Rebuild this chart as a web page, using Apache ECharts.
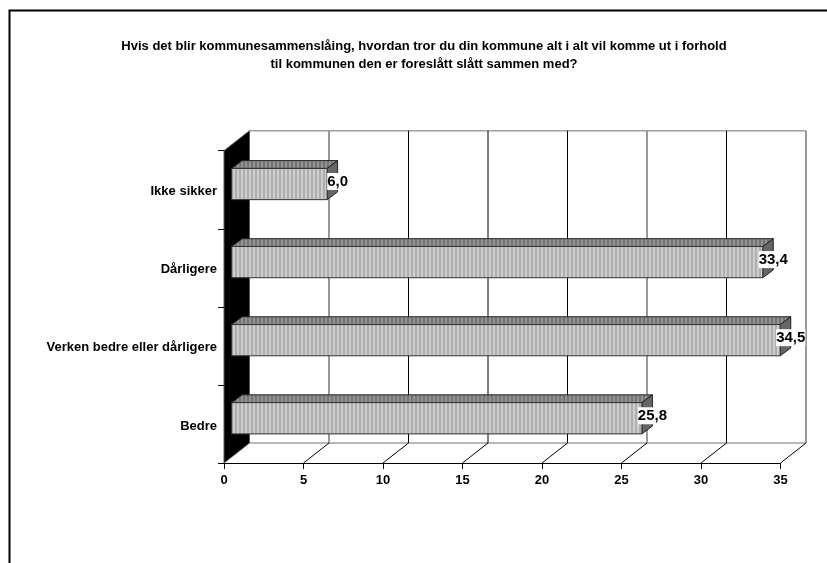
<!DOCTYPE html>
<html>
<head>
<meta charset="utf-8">
<style>html,body{margin:0;padding:0;background:#fff}#c{width:827px;height:563px}</style>
<script src="https://cdn.jsdelivr.net/npm/echarts@6/dist/echarts.min.js"></script>
</head>
<body>
<div id="c"></div>
<script>
const titleLines = [
  'Hvis det blir kommunesammenslåing, hvordan tror du din kommune alt i alt vil komme ut i forhold',
  'til kommunen den er foreslått slått sammen med?'
];
const categories = ['Bedre', 'Verken bedre eller dårligere', 'Dårligere', 'Ikke sikker'];
const values = [25.8, 34.5, 33.4, 6.0];
const valueLabels = ['25,8', '34,5', '33,4', '6,0'];
const xTicks = [0, 5, 10, 15, 20, 25, 30, 35];

// 3D look (pixels)
const WALL_DX = 25.5, WALL_DY = 20;
const BAR_DX = 10.5, BAR_DY = 7.8;
const BAR_X = 7.7, BAR_Y = -5.7;
const blackGrid = new Set([10, 15, 20, 30]);

function stripes(a, b) {
  const cv = document.createElement('canvas');
  cv.width = 4; cv.height = 4;
  const g = cv.getContext('2d');
  g.fillStyle = a; g.fillRect(0, 0, 4, 4);
  g.fillStyle = b; g.fillRect(1, 0, 2, 4);
  return { image: cv, repeat: 'repeat' };
}
const frontFill = stripes('#aeaeae', '#cdcdcd');
const topFill = stripes('#747474', '#929292');

function poly(points, style, z2) {
  return { type: 'polygon', shape: { points }, style, z2: z2 || 0 };
}
function seg(x1, y1, x2, y2, stroke, w) {
  return { type: 'line', shape: { x1, y1, x2, y2 }, style: { stroke, lineWidth: w || 1, fill: null } };
}

function renderWall(params, api) {
  const cs = params.coordSys;
  const top = cs.y, bottom = cs.y + cs.height;
  const x0 = api.coord([0, 0])[0];
  const x = api.coord([api.value(0), 0])[0];
  const v = api.value(0);
  const children = [];
  const gridColor = blackGrid.has(v) ? '#000' : '#808080';
  if (params.dataIndex === 0) {
    const xEnd = cs.x + cs.width;
    children.push(seg(x0 + WALL_DX, top - WALL_DY, xEnd + WALL_DX, top - WALL_DY, '#a0a0a0', 1.6));
    children.push(seg(x0 + WALL_DX, bottom - WALL_DY, xEnd + WALL_DX, bottom - WALL_DY, '#a0a0a0', 1.6));
    children.push(poly([[x0, top], [x0 + WALL_DX, top - WALL_DY], [x0 + WALL_DX, bottom - WALL_DY], [x0, bottom]],
      { fill: '#000', stroke: '#555', lineWidth: 1 }));
  } else {
    children.push(seg(x + WALL_DX, top - WALL_DY, x + WALL_DX, bottom - WALL_DY, gridColor, blackGrid.has(v) ? 1 : 1.6));
    children.push(seg(x, bottom, x + WALL_DX, bottom - WALL_DY, '#000', 1));
  }
  return { type: 'group', children };
}

function renderBar(params, api) {
  const i = api.value(1);
  const c0 = api.coord([0, i]);
  const c1 = api.coord([api.value(0), i]);
  const h = api.size([0, 1])[1] * 0.4;
  const xa = c0[0] + BAR_X;
  const xb = c1[0] + BAR_X;
  const ya = c0[1] + BAR_Y - h / 2;
  const yb = ya + h;
  return {
    type: 'group',
    children: [
      poly([[xa, ya], [xa + BAR_DX, ya - BAR_DY], [xb + BAR_DX, ya - BAR_DY], [xb, ya]],
        { fill: topFill, stroke: '#222', lineWidth: 1 }),
      poly([[xb, ya], [xb + BAR_DX, ya - BAR_DY], [xb + BAR_DX, yb - BAR_DY], [xb, yb]],
        { fill: '#666', stroke: '#222', lineWidth: 1 }),
      { type: 'rect', shape: { x: xa, y: ya, width: xb - xa, height: h },
        style: { fill: frontFill, stroke: '#333', lineWidth: 1 } },
      { type: 'text', z2: 10,
        style: { x: xb + BAR_DX, y: c0[1] + BAR_Y - 2.5, text: valueLabels[params.dataIndex],
          font: 'bold 15px "Liberation Sans", Arial, sans-serif', fill: '#000',
          align: 'center', verticalAlign: 'middle',
          backgroundColor: '#fff', padding: [1, 0, 1, 0] } }
    ]
  };
}

const chart = echarts.init(document.getElementById('c'), null, { renderer: 'canvas' });
chart.setOption({
  animation: false,
  backgroundColor: '#fff',
  textStyle: { fontFamily: '"Liberation Sans", Arial, sans-serif' },
  title: {
    text: titleLines.join('\n'),
    left: 419, top: 32, textAlign: 'center',
    textStyle: { fontSize: 13, fontWeight: 'bold', color: '#000', lineHeight: 18,
      fontFamily: '"Liberation Sans", Arial, sans-serif' }
  },
  grid: { left: 224, top: 150.7, width: 556.5, height: 312.3 },
  xAxis: {
    type: 'value', min: 0, max: 35, interval: 5, z: 5,
    axisLine: { show: true, lineStyle: { color: '#000', width: 1.2 } },
    axisTick: { show: true, length: 6, lineStyle: { color: '#000' } },
    axisLabel: { fontSize: 13, fontWeight: 'bold', color: '#000', margin: 11,
      customValues: xTicks },
    splitLine: { show: false }
  },
  yAxis: {
    type: 'category', data: categories, z: 5,
    axisLine: { show: false },
    axisTick: { show: true, length: 6, alignWithLabel: false, lineStyle: { color: '#000' } },
    axisLabel: { fontSize: 13, fontWeight: 'bold', color: '#000', margin: 7,
      formatter: s => '{a|' + s + '}',
      rich: { a: { fontSize: 13, fontWeight: 'bold', color: '#000', padding: [4, 0, 0, 0] } } },
    splitLine: { show: false }
  },
  series: [
    { type: 'custom', z: 1, silent: true, clip: false,
      data: xTicks.map(t => [t]), encode: { x: 0 }, renderItem: renderWall },
    { type: 'custom', z: 3, silent: true, clip: false,
      data: values.map((v, i) => [v, i]), encode: { x: 0, y: 1 }, renderItem: renderBar }
  ],
  graphic: [{
    type: 'polyline', silent: true, z: 0,
    shape: { points: [[9.5, 563], [9.5, 10.5], [827, 10.5]] },
    style: { stroke: '#000', lineWidth: 2, fill: null }
  }]
});
</script>
</body>
</html>
